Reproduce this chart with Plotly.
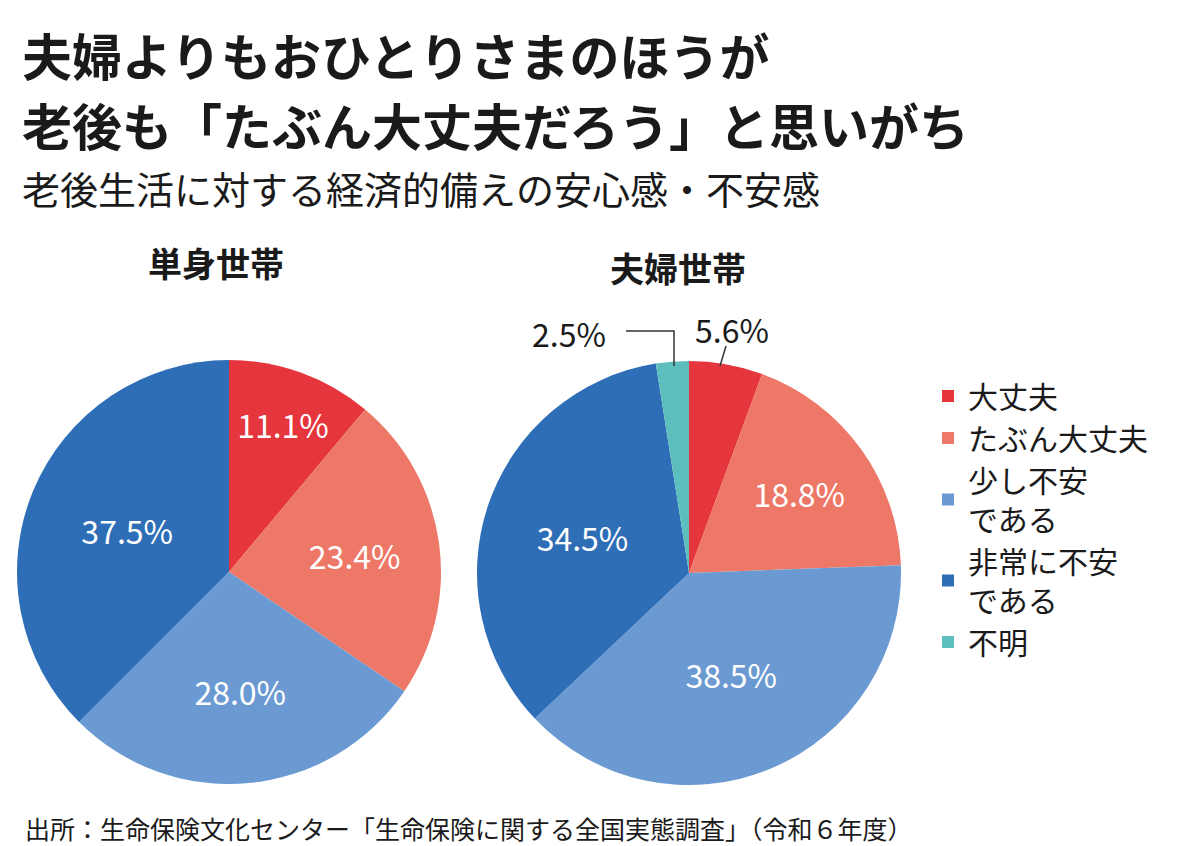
import plotly.graph_objects as go

labels = ["大丈夫", "たぶん大丈夫", "少し不安<br>である", "非常に不安<br>である", "不明"]
colors = ["#e5353d", "#ee7868", "#6b9ad2", "#2e6eb7", "#5cbfbd"]
single_vals = [11.1, 23.4, 28.0, 37.5, 0]
couple_vals = [5.6, 18.8, 38.5, 34.5, 2.5]

W, H = 1200, 846
FONT = "Noto Sans CJK JP"

def dom(cx, cy, r):
    return dict(x=[(cx - r) / W, (cx + r) / W], y=[1 - (cy + r) / H, 1 - (cy - r) / H])

single_text = [f"{v:.1f}%" for v in single_vals]
couple_text = [f"{v:.1f}%" if v > 10 else "" for v in couple_vals]

fig = go.Figure()
fig.add_trace(go.Pie(
    labels=labels, values=single_vals, domain=dom(221, 564, 212),
    sort=False, direction="clockwise", rotation=0,
    marker=dict(colors=colors), text=single_text, textinfo="text",
    textposition="inside", insidetextorientation="horizontal",
    textfont=dict(color="white", size=32, family=FONT), showlegend=True,
))
fig.add_trace(go.Pie(
    labels=labels, values=couple_vals, domain=dom(681, 565, 212),
    sort=False, direction="clockwise", rotation=0,
    marker=dict(colors=colors), text=couple_text, textinfo="text",
    textposition="inside", insidetextorientation="horizontal",
    textfont=dict(color="white", size=32, family=FONT), showlegend=False,
))

ann = [
    dict(x=12, y=8, text="<b>夫婦よりもおひとりさまのほうが</b>", size=50),
    dict(x=12, y=78, text="<b>老後も「たぶん大丈夫だろう」と思いがち</b>", size=50),
    dict(x=12, y=150, text="老後生活に対する経済的備えの安心感・不安感", size=38),
    dict(x=138, y=228, text="<b>単身世帯</b>", size=34),
    dict(x=600, y=233, text="<b>夫婦世帯</b>", size=34),
    dict(x=522, y=300, text="2.5%", size=32),
    dict(x=685, y=296, text="5.6%", size=32),
    dict(x=15, y=800, text="出所：生命保険文化センター「生命保険に関する全国実態調査」（令和６年度）", size=25),
]
fig.update_layout(annotations=[
    dict(x=a["x"] / W, y=1 - a["y"] / H, xref="paper", yref="paper", xanchor="left",
         yanchor="top", showarrow=False, text=a["text"], font=dict(size=a["size"], color="#1a1a1a", family=FONT))
    for a in ann
])
fig.update_layout(shapes=[
    dict(type="path", xref="paper", yref="paper",
         path=f"M {618/W},{1-323/H} L {666/W},{1-323/H} L {666/W},{1-358/H}",
         line=dict(color="#333", width=1.5)),
    dict(type="line", xref="paper", yref="paper", x0=718 / W, y0=1 - 338 / H, x1=712 / W, y1=1 - 358 / H,
         line=dict(color="#333", width=1.5)),
])

fig.update_layout(
    width=W, height=H, margin=dict(l=0, r=0, t=0, b=0),
    paper_bgcolor="white", font=dict(family=FONT),
    legend=dict(x=920 / W, y=1 - 362 / H, xanchor="left", yanchor="top",
                font=dict(size=30, color="#1a1a1a", family=FONT),
                itemsizing="constant", tracegroupgap=8),
)
fig.write_html("out.html")
